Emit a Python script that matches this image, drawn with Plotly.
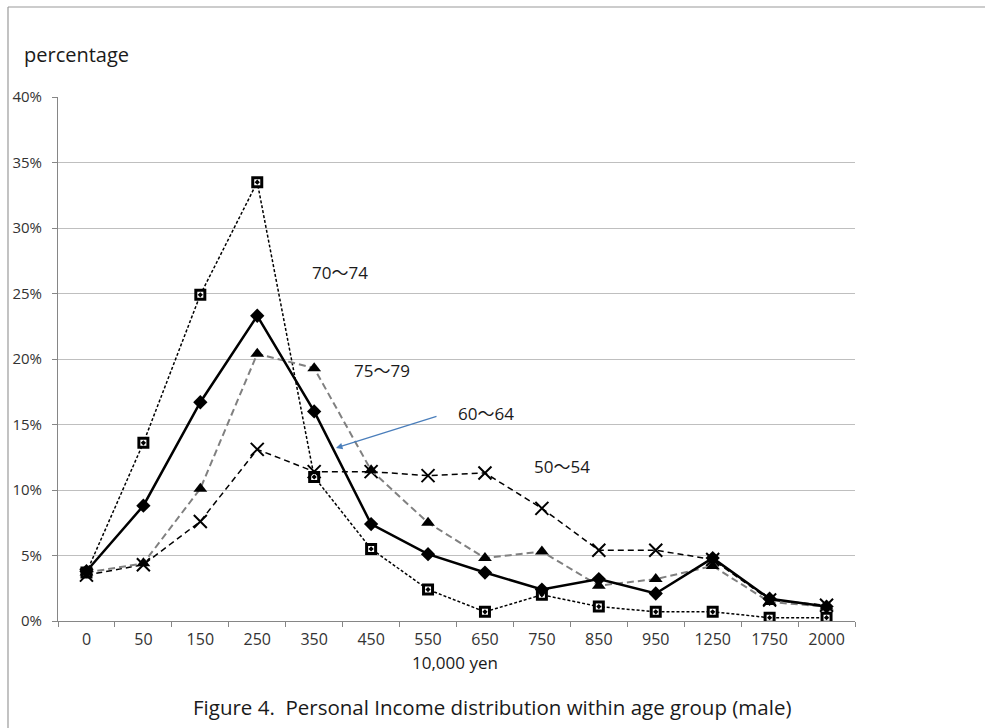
import plotly.graph_objects as go

# Income brackets (10,000 yen)
categories = ["0", "50", "150", "250", "350", "450", "550", "650",
              "750", "850", "950", "1250", "1750", "2000"]

# Share of men in each income bracket, by age group (%)
age_50_54 = [3.5, 4.3, 7.6, 13.1, 11.4, 11.4, 11.1, 11.3, 8.6, 5.4, 5.4, 4.7, 1.6, 1.2]
age_60_64 = [3.8, 8.8, 16.7, 23.3, 16.0, 7.4, 5.1, 3.7, 2.4, 3.2, 2.1, 4.8, 1.7, 1.1]
age_70_74 = [3.7, 13.6, 24.9, 33.5, 11.0, 5.5, 2.4, 0.7, 2.0, 1.1, 0.7, 0.7, 0.25, 0.25]
age_75_79 = [3.7, 4.4, 10.1, 20.4, 19.3, 11.5, 7.5, 4.8, 5.3, 2.7, 3.2, 4.2, 1.45, 1.1]

y_ticks = [0, 5, 10, 15, 20, 25, 30, 35, 40]
y_tick_text = ["0%", "5%", "10%", "15%", "20%", "25%", "30%", "35%", "40%"]

W, H = 985, 728
L, R, T, B = 58, 130, 97, 107
PW, PH = W - L - R, H - T - B

FONT = "Open Sans, Noto Sans CJK JP, sans-serif"
GRID = "#BFBFBF"
AXIS = "#868686"
TEXT = "#1a1a1a"


def px_x(px):
    return (px - L) / PW


def px_y(py):
    return (H - B - py) / PH


fig = go.Figure()

fig.add_trace(go.Scatter(
    x=categories, y=age_70_74, mode="lines+markers", name="70〜74",
    line=dict(color="black", width=1.5, dash="3px,2px"),
    marker=dict(symbol="square-dot", size=9, color="white",
                line=dict(color="black", width=3)),
))
fig.add_trace(go.Scatter(
    x=categories, y=age_50_54, mode="lines+markers", name="50〜54",
    line=dict(color="black", width=1.5, dash="6px,4px"),
    marker=dict(symbol="x-thin", size=13, line=dict(color="black", width=2)),
))
fig.add_trace(go.Scatter(
    x=categories, y=age_75_79, mode="lines+markers", name="75〜79",
    line=dict(color="#808080", width=2, dash="7px,4px"),
    marker=dict(symbol="triangle-up", size=12, color="black"),
))
fig.add_trace(go.Scatter(
    x=categories, y=age_60_64, mode="lines+markers", name="60〜64",
    line=dict(color="black", width=2.5),
    marker=dict(symbol="diamond", size=11, color="black"),
))

annotations = [
    dict(text="percentage", x=px_x(22), y=px_y(54), xref="paper", yref="paper",
         xanchor="left", yanchor="middle", showarrow=False,
         font=dict(family=FONT, size=20, color=TEXT)),
    dict(text="10,000 yen", x=px_x(455), y=px_y(662), xref="paper", yref="paper",
         xanchor="center", yanchor="middle", showarrow=False,
         font=dict(family=FONT, size=17, color=TEXT)),
    dict(text="Figure 4.  Personal Income distribution within age group (male)",
         x=px_x(492), y=px_y(707), xref="paper", yref="paper",
         xanchor="center", yanchor="middle", showarrow=False,
         font=dict(family=FONT, size=20.5, color=TEXT)),
    dict(text="70〜74", x=px_x(340), y=px_y(259), xref="paper", yref="paper",
         showarrow=False, font=dict(family=FONT, size=17, color=TEXT)),
    dict(text="75〜79", x=px_x(382), y=px_y(371), xref="paper", yref="paper",
         showarrow=False, font=dict(family=FONT, size=17, color=TEXT)),
    dict(text="60〜64", x=px_x(486), y=px_y(413), xref="paper", yref="paper",
         showarrow=False, font=dict(family=FONT, size=17, color=TEXT)),
    dict(text="50〜54", x=px_x(562), y=px_y(480), xref="paper", yref="paper",
         showarrow=False, font=dict(family=FONT, size=17, color=TEXT)),
    # pointer from the 60〜64 label to its curve
    dict(text="", x=px_x(336), y=px_y(448), xref="paper", yref="paper",
         ax=102, ay=-32, showarrow=True, arrowhead=2, arrowsize=1,
         arrowwidth=1.3, arrowcolor="#4A7EBB", standoff=0, startstandoff=0),
]

# outer frame
shapes = [
    dict(type="line", xref="paper", yref="paper",
         x0=px_x(8), y0=px_y(7), x1=px_x(8), y1=px_y(740),
         line=dict(color="#9a9a9a", width=1.2)),
    dict(type="line", xref="paper", yref="paper",
         x0=px_x(8), y0=px_y(7), x1=px_x(1000), y1=px_y(7),
         line=dict(color="#9a9a9a", width=1.2)),
]

fig.update_layout(
    width=W, height=H,
    margin=dict(l=L, r=R, t=T, b=B, pad=0),
    paper_bgcolor="white", plot_bgcolor="white",
    showlegend=False,
    annotations=annotations,
    shapes=shapes,
    font=dict(family=FONT, size=16, color="#333333"),
    xaxis=dict(
        type="category", categoryorder="array", categoryarray=categories,
        range=[-0.5, len(categories) - 0.5], automargin=False,
        tickson="boundaries", ticks="outside", ticklen=5, tickcolor=AXIS,
        showline=True, linecolor=AXIS, linewidth=1,
        showgrid=False, zeroline=False, ticklabelstandoff=4,
        tickfont=dict(family=FONT, size=16, color="#333333"),
    ),
    yaxis=dict(
        range=[0, 40], tickmode="array", tickvals=y_ticks, ticktext=y_tick_text,
        automargin=False,
        ticks="outside", ticklen=5, tickcolor=AXIS,
        showline=True, linecolor=AXIS, linewidth=1,
        showgrid=True, gridcolor=GRID, gridwidth=1, zeroline=False,
        ticklabelstandoff=7,
        tickfont=dict(family=FONT, size=15, color="#333333"),
    ),
)

fig.write_html("out.html")
